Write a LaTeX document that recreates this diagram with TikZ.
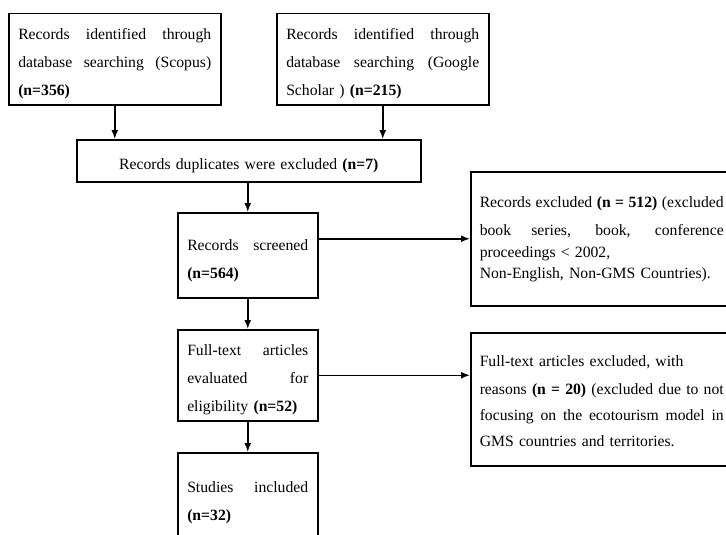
\documentclass[tikz,border=0pt]{standalone}
\usepackage{fontspec}
\setmainfont{Liberation Serif}
\usetikzlibrary{arrows.meta}
\newcommand{\upgap}[1]{\rule{0pt}{#1pt}}
\newcommand{\downgap}[1]{\rule[-#1pt]{0pt}{#1pt}}
\newcommand{\fullline}[1]{\makebox[\hsize][s]{\spaceskip=0pt\xspaceskip=0pt\relax #1}}

\begin{document}
\begin{tikzpicture}[x=1pt,y=-1pt,>={Latex[length=9pt,width=7pt]},
	box/.style={draw, line width=1.5pt, anchor=north west, inner xsep=9.5pt, inner ysep=0pt,
		align=left, font=\fontsize{15.7}{28}\selectfont},
	wide/.style={box, inner xsep=9pt, text width=244pt},
	narrow/.style={box, text width=121pt}]
	\useasboundingbox (0,0) rectangle (726,535);
	\node[box, text width=193pt] (scopus) at (8,13)
		{\upgap{26}\fullline{Records identified through}\\
		\fullline{database searching (Scopus)}\\
		\textbf{(n=356)}\downgap{9}};
	\node[box, text width=193pt] (scholar) at (276,13)
		{\upgap{26}\fullline{Records identified through}\\
		\fullline{database searching (Google}\\
		Scholar ) \textbf{(n=215)}\downgap{9}};
	\node[box, text width=325pt, align=center] (dup) at (76,139)
		{\upgap{30}Records duplicates were excluded \textbf{(n=7)}\downgap{12}};
	\node[narrow] (screen) at (177,212)
		{\upgap{38}\fullline{Records screened}\\
		\textbf{(n=564)}\downgap{19}};
	\node[wide] (excl) at (470,171)
		{\upgap{36}\fullline{Records excluded \textbf{(n = 512)} (excluded}\\
		\fullline{book series, book, conference}\\[-6pt]
		proceedings < 2002,\\[-7pt]
		Non-English, Non-GMS Countries).\downgap{27}};
	\node[narrow] (full) at (177,329)
		{\upgap{26}\fullline{Full-text articles}\\
		\fullline{evaluated for}\\
		eligibility \textbf{(n=52)}\downgap{9}};
	\node[wide] (fullexcl) at (470,332)
		{\upgap{34}Full-text articles excluded, with\\
		\fullline{reasons \textbf{(n = 20)} (excluded due to not}\\[-2pt]
		\fullline{focusing on the ecotourism model in}\\[-2pt]
		GMS countries and territories.\downgap{19}};
	\node[narrow] (studies) at (177,452)
		{\upgap{40}\fullline{Studies included}\\
		\textbf{(n=32)}\downgap{39}};
	\path[->, line width=1.5pt]
		(scopus.south) edge (scopus.south |- dup.north)
		(scholar.south) edge (scholar.south |- dup.north)
		(dup.south -| screen.north) edge (screen.north)
		(screen.east |- excl.west) edge (excl.west)
		(screen.south) edge (full.north)
		(full.east) edge (full.east -| fullexcl.west)
		(full.south) edge (studies.north);
\end{tikzpicture}
\end{document}
